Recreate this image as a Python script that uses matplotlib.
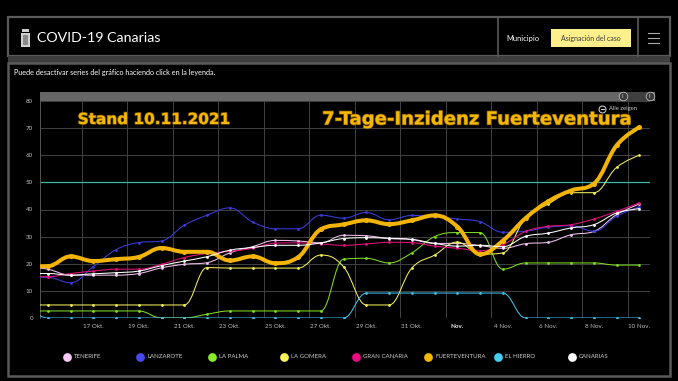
import numpy as np
import matplotlib
matplotlib.use("Agg")
import matplotlib.pyplot as plt
from matplotlib.path import Path
from matplotlib.patches import PathPatch, Rectangle
from matplotlib.lines import Line2D
import matplotlib.patheffects as pe

# ---------------- data ----------------
dates = ["14.10.", "15.10.", "16.10.", "17.10.", "18.10.", "19.10.", "20.10.",
         "21.10.", "22.10.", "23.10.", "24.10.", "25.10.", "26.10.", "27.10.",
         "28.10.", "29.10.", "30.10.", "31.10.", "01.11.", "02.11.", "03.11.",
         "04.11.", "05.11.", "06.11.", "07.11.", "08.11.", "09.11.", "10.11."]

tick_dates = ["17.10.", "19.10.", "21.10.", "23.10.", "25.10.", "27.10.", "29.10.",
              "31.10.", "02.11.", "04.11.", "06.11.", "08.11.", "10.11."]
tick_labels = ["17 Okt.", "19 Okt.", "21 Okt.", "23 Okt.", "25 Okt.", "27 Okt.", "29 Okt.",
               "31 Okt.", "Nov.", "4 Nov.", "6 Nov.", "8 Nov.", "10 Nov."]

tenerife = [19.0, 18.0, 15.8, 15.8, 15.8, 16.4, 18.5, 19.8, 20.4, 24.0, 26.3, 28.6, 28.4, 27.7,
            30.5, 30.3, 29.3, 28.9, 27.5, 27.5, 26.7, 25.7, 27.4, 27.9, 30.7, 31.9, 38.1, 42.0]
lanzarote = [15.0, 15.0, 13.0, 18.9, 25.2, 27.8, 28.4, 34.2, 37.9, 40.6, 35.4, 32.9, 32.9, 37.9,
             36.8, 38.9, 36.2, 37.8, 37.4, 36.5, 35.5, 31.6, 32.0, 33.5, 34.0, 32.0, 37.5, 41.0]
la_palma = [2.6, 2.6, 2.6, 2.6, 2.6, 2.6, 0.0, 0.0, 1.4, 2.6, 2.6, 2.6, 2.6, 2.6,
            21.7, 22.0, 20.3, 24.0, 30.0, 31.5, 31.5, 18.0, 20.3, 20.3, 20.3, 20.3, 19.5, 19.5]
la_gomera = [4.8, 4.8, 4.8, 4.8, 4.8, 4.8, 4.8, 4.8, 18.6, 18.4, 18.4, 18.4, 18.4, 23.2,
             18.9, 4.8, 4.8, 18.4, 23.2, 28.0, 23.5, 24.0, 36.9, 42.0, 46.2, 46.2, 55.5, 60.0]
gran_canaria = [15.5, 15.2, 16.4, 17.3, 18.0, 18.0, 19.8, 22.3, 23.8, 24.6, 25.7, 27.6, 27.7, 27.3,
                26.8, 27.3, 27.9, 27.8, 26.5, 25.7, 24.8, 27.0, 31.9, 33.8, 34.4, 36.5, 39.3, 42.5]
fuerteventura = [19.0, 19.1, 22.7, 21.0, 21.7, 22.5, 25.8, 24.4, 24.4, 21.2, 22.7, 20.2, 22.4, 32.7,
                 34.5, 36.0, 34.6, 36.0, 37.8, 33.7, 23.5, 28.5, 36.8, 43.0, 47.0, 49.5, 63.6, 70.3]
el_hierro = [4.5, 0, 0, 0, 0, 0, 0, 0, 0, 0, 0, 0, 0, 0,
             0, 9.2, 9.2, 9.2, 9.2, 9.2, 9.2, 9.2, 0, 0, 0, 0, 0, 0]
canarias = [16.4, 16.4, 15.8, 16.3, 16.7, 17.3, 19.3, 21.0, 22.6, 25.0, 26.0, 26.8, 26.8, 27.7,
            29.3, 29.6, 29.4, 29.0, 27.5, 26.5, 26.8, 26.3, 30.1, 31.3, 33.2, 34.4, 38.7, 40.3]

series_names = ["TENERIFE", "LANZAROTE", "LA PALMA", "LA GOMERA", "GRAN CANARIA",
                "FUERTEVENTURA", "EL HIERRO", "CANARIAS"]
series_values = [tenerife, lanzarote, la_palma, la_gomera, gran_canaria,
                 fuerteventura, el_hierro, canarias]
threshold = 50

# ---------------- styles ----------------
colors = ["#f2c3f0", "#3c3cdc", "#7fdc1e", "#f3ee5c", "#e4107c", "#f3b406", "#3ec2ea", "#ffffff"]
legend_colors = ["#f7c9f7", "#4848f0", "#88ea2a", "#fbf55a", "#ee0a84", "#f5b800", "#46cdf2", "#ffffff"]

W, H = 678, 381
UI = ["Lato", "DejaVu Sans"]
fig = plt.figure(figsize=(W / 100, H / 100), dpi=100, facecolor="black")


def fx(px):
    return px / W


def fy(py):
    return 1 - py / H


def rect(x0, y0, x1, y1, fc, ec="none", lw=0, z=0):
    r = Rectangle((fx(x0), fy(y1)), (x1 - x0) / W, (y1 - y0) / H, transform=fig.transFigure,
                  facecolor=fc, edgecolor=ec, linewidth=lw, zorder=z)
    fig.add_artist(r)
    return r


def hline(x0, x1, y, c, lw):
    fig.add_artist(Line2D([fx(x0), fx(x1)], [fy(y), fy(y)], transform=fig.transFigure, color=c, lw=lw))


def vline(x, y0, y1, c, lw):
    fig.add_artist(Line2D([fx(x), fx(x)], [fy(y0), fy(y1)], transform=fig.transFigure, color=c, lw=lw))


# page frame
rect(8, 17, 670, 56, "black", "#5a5a5a", 1.6)
rect(8, 56, 670, 63, "#3e3e3e")
rect(8, 63, 670, 376, "black", "#5a5a5a", 1.8)
vline(498, 17, 56, "#5a5a5a", 1.2)
vline(638, 17, 56, "#5a5a5a", 1.2)

# logo
rect(22, 29, 29, 32, "#d0d0d0")
rect(21, 33, 30, 47, "#cfcfcf")
rect(23, 35, 28, 45, "#8a8a8a")
fig.text(fx(37), fy(38), "COVID-19 Canarias", color="white", fontsize=10.2, family=UI,
         ha="left", va="center")
fig.text(fx(506), fy(38), "Municipio", color="white", fontsize=5.4, family=UI, ha="left", va="center")
rect(551, 29, 631, 47, "#fdf08c")
fig.text(fx(591), fy(38), "Asignación del caso", color="#3a3a3a", fontsize=5.0, family=UI,
         ha="center", va="center")
for yy in (33, 38, 43):
    hline(648, 659, yy, "#aaaaaa", 0.8)

fig.text(fx(14), fy(72), "Puede desactivar series del gráfico haciendo click en la leyenda.",
         color="white", fontsize=5.2, family=UI, ha="left", va="center")

# navigator bar
rect(40, 92, 655, 100.5, "#666666")
rect(623, 92, 650, 100.5, "#3f3f3f")
for hx in (623, 650):
    fig.add_artist(Line2D([fx(hx)], [fy(96.3)], transform=fig.transFigure, marker="o", ms=6.2,
                          mfc="#3a3a3a", mec="#bbbbbb", mew=0.6, ls="none"))
    fig.text(fx(hx), fy(96.5), "ll", color="#dddddd", fontsize=3.6, ha="center", va="center",
             family=UI)

# "Alle zeigen"
fig.add_artist(Line2D([fx(602)], [fy(108.5)], transform=fig.transFigure, marker="o", ms=5,
                      mfc="none", mec="#dddddd", mew=0.7, ls="none"))
hline(600.5, 603.5, 108.5, "#dddddd", 0.7)
fig.text(fx(609), fy(108.3), "Alle zeigen", color="#cccccc", fontsize=4.2, family=UI,
         ha="left", va="center")

# ---------------- chart ----------------
ax = fig.add_axes([fx(40), fy(318), 610 / W, 217 / H])
ax.set_facecolor("none")
x = np.arange(len(dates))
ax.set_xlim(0.657, 27.47)
ax.set_ylim(0, 80)

ax.set_yticks(np.arange(0, 81, 10))
ax.set_yticklabels([str(v) for v in range(0, 81, 10)], family=UI, fontsize=4.5, color="#bbbbbb")
tick_pos = [dates.index(d) for d in tick_dates]
ax.set_xticks(tick_pos)
ax.set_xticklabels(tick_labels, family=UI, fontsize=4.5, color="#bbbbbb")
for lab in ax.get_xticklabels():
    if lab.get_text() == "Nov.":
        lab.set_fontweight("bold")
        lab.set_color("#e8e8e8")
ax.set_xticks(np.array(tick_pos) - 0.5, minor=True)
ax.tick_params(axis="both", which="both", length=0)
ax.tick_params(axis="y", pad=5)
ax.tick_params(axis="x", pad=4)
ax.grid(True, axis="y", which="major", color="#424242", lw=0.7)
ax.grid(True, axis="x", which="minor", color="#424242", lw=0.7)
for s in ("top", "right", "bottom"):
    ax.spines[s].set_visible(False)
ax.spines["left"].set_color("#555555")
ax.spines["left"].set_linewidth(0.7)

ax.axhline(threshold, color="#3cb8a8", lw=0.9, zorder=2)


def hc_spline(xs, ys):
    n = len(xs)
    verts = [(xs[0], ys[0])]
    codes = [Path.MOVETO]
    rc = [None] * n
    sm, den = 1.5, 2.5
    for i in range(1, n):
        px, py = xs[i], ys[i]
        lx, ly = xs[i - 1], ys[i - 1]
        if i < n - 1:
            nx, ny = xs[i + 1], ys[i + 1]
            lcx, lcy = (sm * px + lx) / den, (sm * py + ly) / den
            rcx, rcy = (sm * px + nx) / den, (sm * py + ny) / den
            corr = 0.0
            if rcx != lcx:
                corr = (rcy - lcy) * (rcx - px) / (rcx - lcx) + py - rcy
            lcy += corr
            rcy += corr
            if lcy > ly and lcy > py:
                lcy = max(ly, py); rcy = 2 * py - lcy
            elif lcy < ly and lcy < py:
                lcy = min(ly, py); rcy = 2 * py - lcy
            if rcy > ny and rcy > py:
                rcy = max(ny, py); lcy = 2 * py - rcy
            elif rcy < ny and rcy < py:
                rcy = min(ny, py); lcy = 2 * py - rcy
            rc[i] = (rcx, rcy)
        else:
            lcx, lcy = px, py
        prev = rc[i - 1] if rc[i - 1] is not None else (lx, ly)
        verts += [prev, (lcx, lcy), (px, py)]
        codes += [Path.CURVE4] * 3
    return Path(verts, codes)


for i, (name, vals) in enumerate(zip(series_names, series_values)):
    thick = name == "FUERTEVENTURA"
    lw = 2.9 if thick else 0.75
    z = 3 + i
    patch = PathPatch(hc_spline(x, vals), facecolor="none", edgecolor=colors[i], lw=lw,
                      capstyle="round", joinstyle="round", zorder=z)
    ax.add_patch(patch)
    ax.plot(x, vals, ls="none", marker="o", ms=3.6 if thick else 2.0, color=colors[i],
            mec="none", zorder=z + 0.5)

# overlay titles
def fit_text(s, xc, yc, width_px, **kw):
    t = fig.text(fx(xc), fy(yc), s, ha="center", va="center", fontsize=10, **kw)
    r = fig.canvas.get_renderer()
    w = t.get_window_extent(r).width
    t.set_fontsize(10 * width_px / w)
    return t

title_kw = dict(color="#f5b800", fontweight="bold", family="DejaVu Sans", zorder=20,
                path_effects=[pe.withStroke(linewidth=1.0, foreground="#7a5400")])
fit_text("Stand 10.11.2021", 153.5, 119.5, 153, **title_kw)
fit_text("7-Tage-Inzidenz Fuerteventura", 477, 119.5, 310, **title_kw)

# legend
leg_circle_x = [67, 140, 212, 284, 356, 428, 498, 572]
for i, name in enumerate(series_names):
    fig.add_artist(Line2D([fx(leg_circle_x[i])], [fy(357)], transform=fig.transFigure, marker="o",
                          ms=6.3, mfc=legend_colors[i], mec="none", ls="none"))
    fig.text(fx(leg_circle_x[i] + 7), fy(357), name, color="#cccccc", fontsize=4.4, family=UI,
             ha="left", va="center")

fig.savefig("out.png", dpi=100, facecolor="black")
